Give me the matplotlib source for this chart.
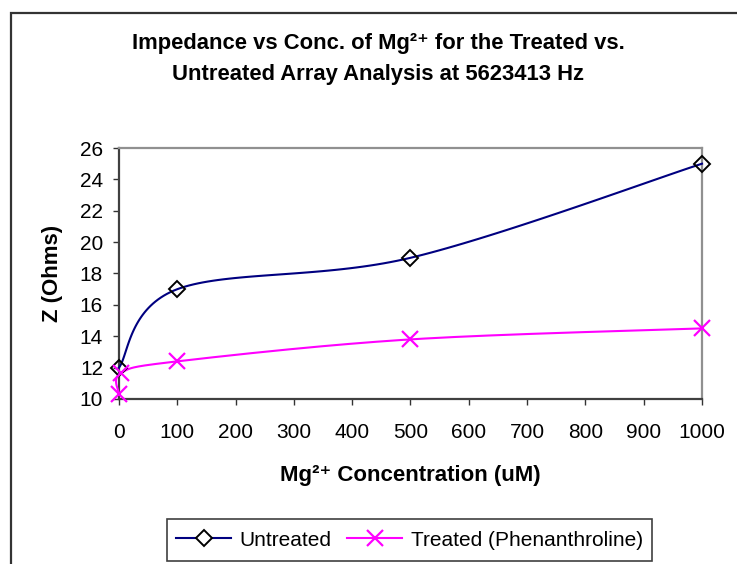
import numpy as np
import matplotlib
matplotlib.use("Agg")
import matplotlib.pyplot as plt
from matplotlib.patches import Rectangle

plt.rcParams['font.family'] = ['Liberation Sans', 'DejaVu Sans']

# ---- data ----
untreated_x = [0, 100, 500, 1000]
untreated_y = [12.0, 17.0, 19.0, 25.0]
treated_x = [0, 3, 100, 500, 1000]
treated_y = [10.3, 11.65, 12.4, 13.8, 14.5]
x_ticks = [0, 100, 200, 300, 400, 500, 600, 700, 800, 900, 1000]
y_ticks = [10, 12, 14, 16, 18, 20, 22, 24, 26]
series_names = ["Untreated", "Treated (Phenanthroline)"]
title = ("Impedance vs Conc. of Mg²⁺ for the Treated vs.\n"
         "Untreated Array Analysis at 5623413 Hz")
xlabel = "Mg²⁺ Concentration (uM)"
ylabel = "Z (Ohms)"


def excel_smooth(xs, ys, n=40):
    """Catmull-Rom style Bezier smoothing (as in spreadsheet smoothed lines)."""
    P = np.column_stack([xs, ys]).astype(float)
    m = len(P)
    out = [P[0]]
    for i in range(m - 1):
        p0 = P[i - 1] if i > 0 else P[i]
        p1 = P[i]
        p2 = P[i + 1]
        p3 = P[i + 2] if i + 2 < m else P[i + 1]
        c1 = p1 + (p2 - p0) / 6.0
        c2 = p2 - (p3 - p1) / 6.0
        t = np.linspace(0, 1, n)[1:, None]
        seg = ((1 - t) ** 3) * p1 + 3 * ((1 - t) ** 2) * t * c1 + 3 * (1 - t) * t ** 2 * c2 + t ** 3 * p2
        out.extend(seg)
    out = np.array(out)
    return out[:, 0], out[:, 1]


W, H = 737, 564
fig = plt.figure(figsize=(W / 100, H / 100), dpi=100)

# outer chart border (extends beyond right/bottom edges)
fig.patches.append(Rectangle((11 / W, -0.1), 1.2, 1 - 13 / H + 0.1, transform=fig.transFigure,
                             fill=False, edgecolor='#333333', linewidth=1.6))

ax = fig.add_axes([119 / W, 1 - 399 / H, (702 - 119) / W, (399 - 148) / H])

ux, uy = excel_smooth(untreated_x, untreated_y)
tx, ty = excel_smooth(treated_x, treated_y)

ax.plot(ux, uy, color='#000080', linewidth=1.5, zorder=3, clip_on=False)
ax.plot(untreated_x, untreated_y, linestyle='none', marker='D', markersize=8,
        markerfacecolor='none', markeredgecolor='black', markeredgewidth=1.4, zorder=4,
        clip_on=False)
ax.plot(tx, ty, color='#FF00FF', linewidth=1.5, zorder=3, clip_on=False)
ax.plot(treated_x, treated_y, linestyle='none', marker='x', markersize=12,
        markeredgecolor='#FF00FF', markeredgewidth=1.6, zorder=4, clip_on=False)

# legend proxies
h1, = ax.plot([], [], color='#000080', linewidth=1.5, marker='D', markersize=8,
              markerfacecolor='white', markeredgecolor='black', markeredgewidth=1.4)
h2, = ax.plot([], [], color='#FF00FF', linewidth=1.5, marker='x', markersize=12,
              markeredgecolor='#FF00FF', markeredgewidth=1.6)

ax.set_xlim(0, 1000)
ax.set_ylim(10, 26)
ax.set_xticks(x_ticks)
ax.set_yticks(y_ticks)
ax.tick_params(axis='both', labelsize=15, colors='#333333', labelcolor='black')
ax.tick_params(axis='y', direction='out', length=4.5, pad=7, width=1)
ax.tick_params(axis='x', direction='out', length=4, pad=13, width=1)

for s in ['left', 'bottom']:
    ax.spines[s].set_color('#404040')
    ax.spines[s].set_linewidth(1.6)
for s in ['top', 'right']:
    ax.spines[s].set_color('#909090')
    ax.spines[s].set_linewidth(1.6)

ax.set_xlabel(xlabel, fontsize=16, fontweight='bold', labelpad=17)
ax.set_ylabel(ylabel, fontsize=16, fontweight='bold', labelpad=12)

fig.text(378 / W, 1 - 59 / H, title, ha='center', va='center', fontsize=15.8,
         fontweight='bold', linespacing=1.6)

# legend frame drawn explicitly
fig.patches.append(Rectangle((167 / W, 1 - 561 / H), (652 - 167) / W, 42 / H,
                             transform=fig.transFigure, fill=True, facecolor='white',
                             edgecolor='#404040', linewidth=1.2, zorder=5))
leg = fig.legend([h1, h2], series_names, loc='center', bbox_to_anchor=(409.5 / W, 1 - 540 / H),
                 ncol=2, fontsize=15, frameon=False, handlelength=2.65,
                 columnspacing=0.75, handletextpad=0.4, borderpad=0.3)
leg.set_zorder(6)

fig.savefig("out.png", dpi=100)
